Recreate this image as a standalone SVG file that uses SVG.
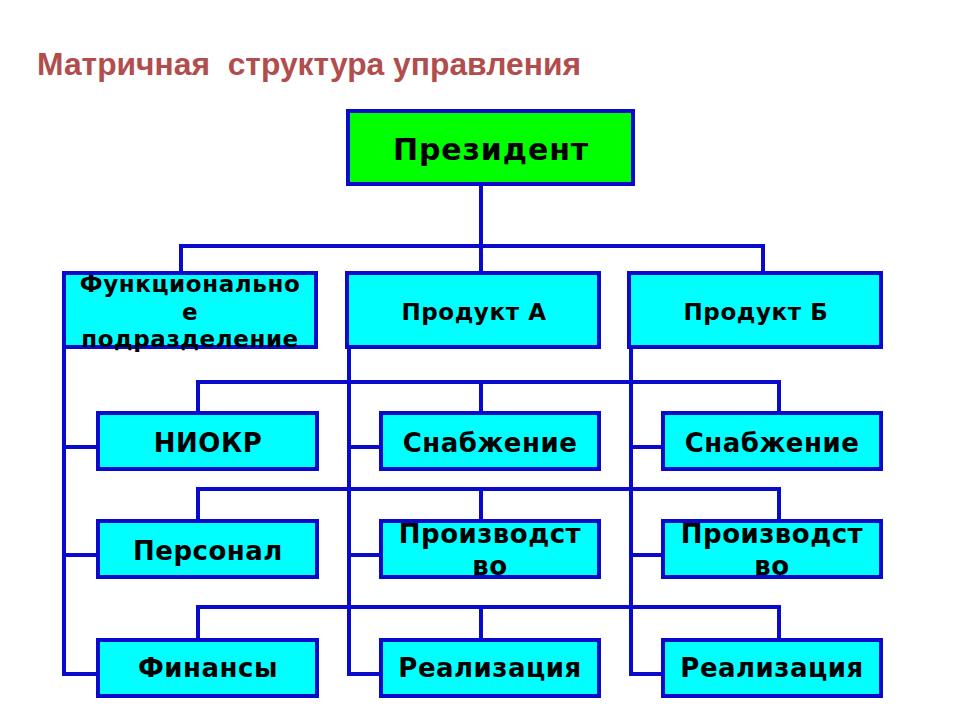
<svg xmlns="http://www.w3.org/2000/svg" width="960" height="720" viewBox="0 0 960 720">
<style>
.box{stroke:#0a0acc;stroke-width:4}
.g{fill:#00ff00}
.c{fill:#00ffff}
.t{font-family:"DejaVu Sans",sans-serif;font-weight:bold;fill:#000;text-anchor:middle}
.l2{font-size:23px;letter-spacing:0.6px}
.l3{font-size:26px;letter-spacing:0.5px}
.conn{stroke:#0a0acc;stroke-width:4;fill:none}
</style>
<rect width="960" height="720" fill="#fff"/>
<text x="37" y="75" font-family="Liberation Sans, Arial, sans-serif" font-weight="bold" font-size="31.8" fill="#b24d4d" xml:space="preserve">Матричная  структура управления</text>
<g id="connectors">
<path class="conn" d="M481 184V273M181 273V246H763V273"/>
<path class="conn" d="M64 347V674H98M64 447H98M64 555H98"/>
<path class="conn" d="M349 347V674H381M349 447H381M349 555H381"/>
<path class="conn" d="M631 347V674H663M631 447H663M631 555H663"/>
<path class="conn" d="M198 413V382H779V413M481 382V413"/>
<path class="conn" d="M198 521V489H779V521M481 489V521"/>
<path class="conn" d="M198 640V607H779V640M481 607V640"/>
</g>
<g id="president"><rect class="box g" x="348" y="111" width="285" height="73"/><text class="t" x="491" y="160" font-size="30" letter-spacing="0.9">Президент</text></g>
<g id="func"><rect class="box c" x="64" y="273" width="252" height="74"/><text class="t l2" x="190" y="292">Функционально</text><text class="t l2" x="190" y="320">е</text><text class="t l2" x="190" y="347">подразделение</text></g>
<g id="prodA"><rect class="box c" x="347" y="273" width="252" height="74"/><text class="t l2" x="474" y="320">Продукт А</text></g>
<g id="prodB"><rect class="box c" x="629" y="273" width="252" height="74"/><text class="t l2" x="756" y="320">Продукт Б</text></g>
<g id="niokr"><rect class="box c" x="98" y="413" width="219" height="56"/><text class="t l3" x="208" y="452">НИОКР</text></g>
<g id="snabA"><rect class="box c" x="381" y="413" width="218" height="56"/><text class="t l3" x="490" y="452">Снабжение</text></g>
<g id="snabB"><rect class="box c" x="663" y="413" width="218" height="56"/><text class="t l3" x="772" y="452">Снабжение</text></g>
<g id="personal"><rect class="box c" x="98" y="521" width="219" height="56"/><text class="t l3" x="208" y="560">Персонал</text></g>
<g id="prozA"><rect class="box c" x="381" y="521" width="218" height="56"/><text class="t l3" x="490" y="543">Производст</text><text class="t l3" x="490" y="575">во</text></g>
<g id="prozB"><rect class="box c" x="663" y="521" width="218" height="56"/><text class="t l3" x="772" y="543">Производст</text><text class="t l3" x="772" y="575">во</text></g>
<g id="finance"><rect class="box c" x="98" y="640" width="219" height="56"/><text class="t l3" x="208" y="677">Финансы</text></g>
<g id="realA"><rect class="box c" x="381" y="640" width="218" height="56"/><text class="t l3" x="490" y="677">Реализация</text></g>
<g id="realB"><rect class="box c" x="663" y="640" width="218" height="56"/><text class="t l3" x="772" y="677">Реализация</text></g>
</svg>
